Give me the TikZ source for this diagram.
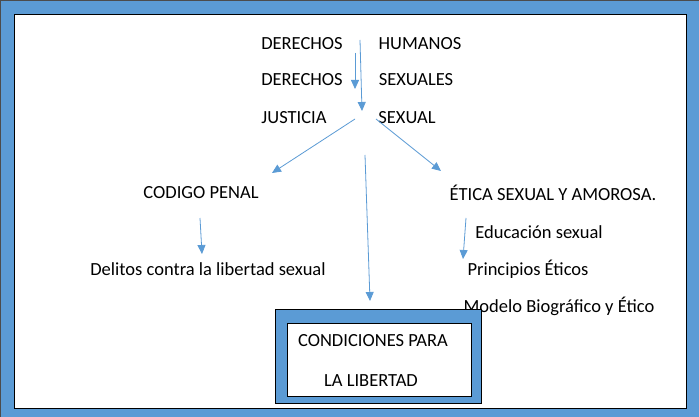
\documentclass[tikz,border=0pt]{standalone}
\usepackage{fontspec}
\setmainfont{Carlito}
\usetikzlibrary{arrows.meta, positioning}
\definecolor{frameblue}{HTML}{5B9BD5}
\begin{document}
\begin{tikzpicture}[x=1pt, y=-1pt,
    txt/.style={font=\fontsize{18.5}{20}\selectfont, inner sep=0pt},
    arrow/.style={-{Triangle[length=9pt, width=8pt]}, frameblue, thick}
]
\useasboundingbox (0,0) rectangle (699,417);

% outer frame
\fill[frameblue, draw=black!70] (0,0) rectangle (699,417);
\fill[white, draw=black] (14,14) rectangle (686,408);

% top texts
\node[txt] (d1) at (302,44) {DERECHOS};
\node[txt] (h1) at (420,44) {HUMANOS};
\node[txt] (d2) at (302,80) {DERECHOS};
\node[txt] (s2) at (416,80) {SEXUALES};
\node[txt] (j3) at (294,118) {JUSTICIA};
\node[txt] (s3) at (407,118) {SEXUAL};

% branches
\node[txt] (penal) at (201,193) {CODIGO PENAL};
\node[txt] (etica) at (553,193) {ÉTICA SEXUAL Y AMOROSA.};
\node[txt] (educ) at (539,232) {Educación sexual};
\node[txt] (delitos) at (208,269) {Delitos contra la libertad sexual};
\node[txt] (princ) at (528,269) {Principios Éticos};
\node[txt] (modelo) at (559,306) {Modelo Biográfico y Ético};

% bottom box
\fill[frameblue, draw=black] (275,309) rectangle (481,403);
\fill[white, draw=black] (287,323) rectangle (471,396);
\node[txt] (cond) at (373,341) {CONDICIONES PARA};
\node[txt] (lib) at (371,381) {LA LIBERTAD};

% connector ends
\coordinate (a1) at (355,53);  \coordinate (a2) at (355,89);
\coordinate (b1) at (360,40);  \coordinate (b2) at (362,111);
\coordinate (c1) at (355,119); \coordinate (c2) at (272,173);
\coordinate (e1) at (376,119); \coordinate (e2) at (441,171);
\coordinate (m1) at (365,155); \coordinate (m2) at (370,301);
\coordinate (p1) at (200,218); \coordinate (p2) at (202,254);
\coordinate (q1) at (466,218); \coordinate (q2) at (463,259);

\draw[arrow] (a1) -- (a2);
\draw[arrow] (b1) -- (b2);
\draw[arrow] (c1) -- (c2);
\draw[arrow] (e1) -- (e2);
\draw[arrow] (m1) -- (m2);
\draw[arrow] (p1) -- (p2);
\draw[arrow] (q1) -- (q2);

\end{tikzpicture}
\end{document}
